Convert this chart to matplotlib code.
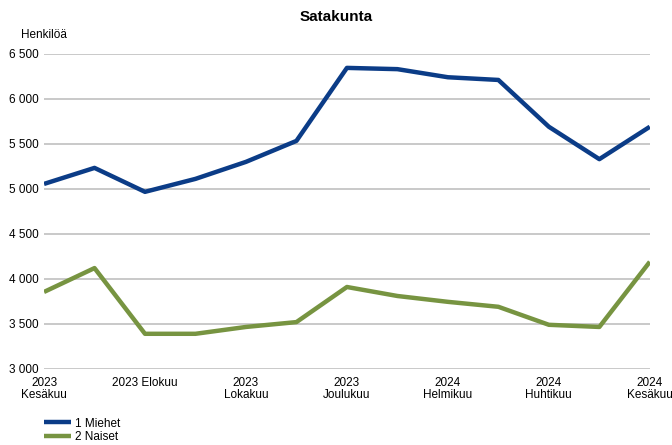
import matplotlib.pyplot as plt

plt.rcParams['font.family'] = ['Liberation Sans', 'DejaVu Sans']

# Kuukaudet 2023 kesäkuu - 2024 kesäkuu
kuukaudet = ['2023 Kesäkuu', '2023 Heinäkuu', '2023 Elokuu', '2023 Syyskuu', '2023 Lokakuu',
             '2023 Marraskuu', '2023 Joulukuu', '2024 Tammikuu', '2024 Helmikuu',
             '2024 Maaliskuu', '2024 Huhtikuu', '2024 Toukokuu', '2024 Kesäkuu']
tick_labels = ['2023\nKesäkuu', '2023 Elokuu', '2023\nLokakuu', '2023\nJoulukuu',
               '2024\nHelmikuu', '2024\nHuhtikuu', '2024\nKesäkuu']
miehet = [5055, 5233, 4967, 5111, 5300, 5533, 6344, 6330, 6240, 6210, 5690, 5330, 5690]
naiset = [3855, 4120, 3390, 3390, 3466, 3520, 3910, 3810, 3745, 3690, 3490, 3466, 4190]

fig = plt.figure(figsize=(6.72, 4.45), dpi=100)
ax = fig.add_axes([0.0655, 0.171, 0.9015, 0.708])

x = list(range(len(kuukaudet)))
ax.plot(x, miehet, color='#0B3C87', linewidth=3.2, label='1 Miehet', solid_capstyle='butt')
ax.plot(x, naiset, color='#779441', linewidth=3.2, label='2 Naiset', solid_capstyle='butt')

ax.set_xlim(0, len(x) - 1)
ax.set_ylim(3000, 6500)
ax.set_yticks(range(3000, 6501, 500))
ax.set_yticklabels([f'{v:,}'.replace(',', ' ') for v in range(3000, 6501, 500)], fontsize=8.5)
ax.set_xticks(x[::2])
ax.set_xticklabels(tick_labels, fontsize=8.5, linespacing=1.0)
ax.tick_params(axis='x', length=0, pad=6)
ax.tick_params(axis='y', length=0, pad=4)
ax.yaxis.grid(True, color='#C0C0C0', linewidth=1.2)
ax.set_axisbelow(True)
for s in ax.spines.values():
    s.set_visible(False)

fig.text(0.5, 0.962, 'Satakunta', ha='center', va='center', fontsize=11, fontweight='bold')
fig.text(0.031, 0.921, 'Henkilöä', ha='left', va='center', fontsize=8.5)

fig.legend(loc='lower left', bbox_to_anchor=(0.05, -0.02), frameon=False, fontsize=8.5,
           handlelength=2.3, labelspacing=0.15, handletextpad=0.3)

fig.savefig('out.png', dpi=100)
